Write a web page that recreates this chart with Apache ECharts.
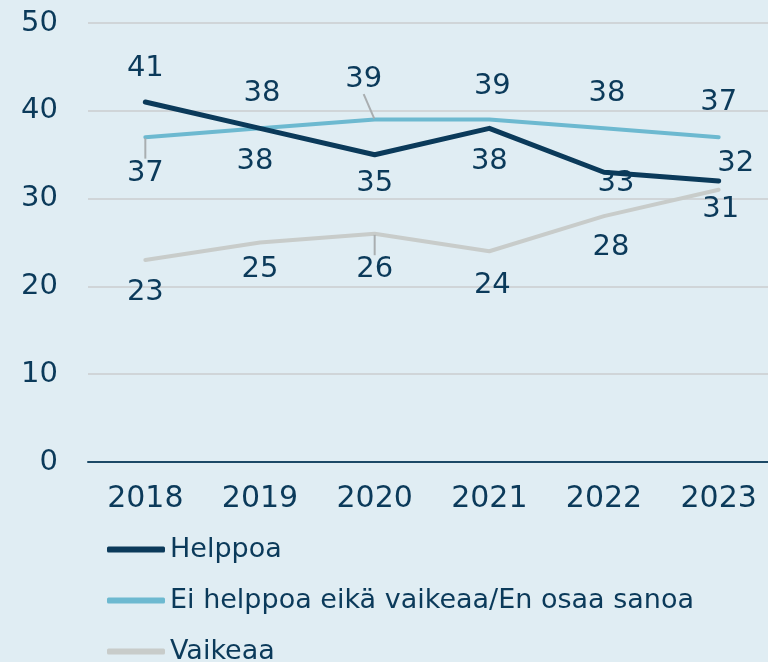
<!DOCTYPE html>
<html lang="fi">
<head>
<meta charset="UTF-8">
<script src="https://cdn.jsdelivr.net/npm/echarts@6/dist/echarts.min.js"></script>
<style>
    html, body { margin: 0; padding: 0; background: #e0edf3; overflow: hidden; }
    #main { width: 776px; height: 662px; }
</style>
</head>
<body>
<div id="main"></div>
<script type="text/javascript">
    var years = ['2018', '2019', '2020', '2021', '2022', '2023'];
    var helppoa = [41, 38, 35, 38, 33, 32];
    var eiHelppoa = [37, 38, 39, 39, 38, 37];
    var vaikeaa = [23, 25, 26, 24, 28, 31];
    var seriesNames = ['Helppoa', 'Ei helppoa eikä vaikeaa/En osaa sanoa', 'Vaikeaa'];

    var navy = '#0b3a5a';
    var lineColors = ['#0b3a5a', '#6db9d0', '#c8ccca'];
    var lineWidths = [5, 4, 4];

    // label shifts (px) from the point, per series
    var labelOffsets = [
        [[0, -34], [-5, 33], [0, 29], [0, 33], [12, 11], [17, -18]],
        [[0, 36], [2, -35], [-11, -40], [3, -33], [3, -35], [0, -35]],
        [[0, 32], [0, 27], [0, 36], [3, 34], [7, 31], [2, 20]]
    ];
    // labels that get a short leader line
    var leaders = {'1-0': true, '1-2': true, '2-2': true};

    var font = 'DejaVu Sans';
    var myChart = echarts.init(document.getElementById('main'));

    function buildSeries(idx, values) {
        var data = [];
        for (var i = 0; i < values.length; i++) {
            var item = {value: values[i]};
            if (leaders[idx + '-' + i]) {
                item.labelLine = {show: true};
            }
            data.push(item);
        }
        return {
            name: seriesNames[idx],
            type: 'line',
            data: data,
            symbol: 'circle',
            symbolSize: 2,
            itemStyle: {color: lineColors[idx]},
            lineStyle: {color: lineColors[idx], width: lineWidths[idx], cap: 'round', join: 'round'},
            label: {
                show: true,
                position: 'inside',
                color: navy,
                fontFamily: font,
                fontSize: 29
            },
            labelLine: {
                show: false,
                lineStyle: {color: '#a9aeb0', width: 2}
            },
            labelLayout: function (p) {
                var o = labelOffsets[p.seriesIndex][p.dataIndex];
                return {dx: o[0], dy: o[1]};
            },
            animation: false,
            z: 3 - idx
        };
    }

    var option = {
        backgroundColor: '#e0edf3',
        animation: false,
        grid: {
            left: 88,
            right: 0,
            top: 23,
            bottom: 200,
            containLabel: false
        },
        legend: {
            orient: 'vertical',
            left: 102,
            top: 531,
            height: 200,
            itemGap: 24,
            itemWidth: 58,
            itemHeight: 6,
            icon: 'roundRect',
            textStyle: {color: navy, fontFamily: font, fontSize: 27},
            data: seriesNames
        },
        xAxis: {
            type: 'category',
            data: years,
            axisLine: {lineStyle: {color: '#1c4966', width: 2}},
            axisTick: {show: false},
            axisLabel: {color: navy, fontFamily: font, fontSize: 30, margin: 22}
        },
        yAxis: {
            type: 'value',
            min: 0,
            max: 50,
            interval: 10,
            axisLine: {show: false},
            axisTick: {show: false},
            axisLabel: {color: navy, fontFamily: font, fontSize: 29, margin: 30},
            splitLine: {lineStyle: {color: '#d0d5d8', width: 2}}
        },
        series: [
            buildSeries(0, helppoa),
            buildSeries(1, eiHelppoa),
            buildSeries(2, vaikeaa)
        ]
    };
    myChart.setOption(option);
</script>
</body>
</html>
